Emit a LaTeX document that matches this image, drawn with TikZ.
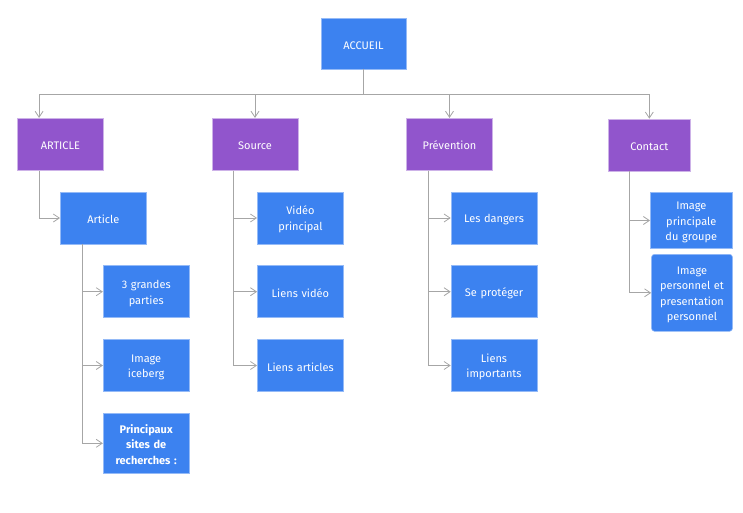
\documentclass[tikz,border=0pt]{standalone}
\usepackage{fontspec}
\setmainfont{Fira Sans}
\usepackage{tikz}
\usetikzlibrary{shapes,arrows.meta}
\definecolor{pageblue}{HTML}{3C82F0}
\definecolor{pagepurple}{HTML}{9155CC}
\definecolor{linkgray}{HTML}{A6A6A6}
\tikzstyle{page}=[draw=pageblue!55!white, line width=0.6pt, fill=pageblue, text=white,
    text width=82pt, inner sep=2pt, text centered, minimum height=52pt,
    font=\fontsize{11}{15.5}\selectfont, execute at begin node={\rule{0pt}{11.5pt}}]
\tikzstyle{section}=[page, draw=pagepurple!45!white, fill=pagepurple]
\tikzstyle{link}=[draw=linkgray, line width=0.8pt,
    -{Straight Barb[length=6pt,width=8pt]}]

\begin{document}
\begin{tikzpicture}[x=1pt,y=-1pt]
\useasboundingbox (0,0) rectangle (743,512);
% Accueil
\path (363.5,43.5) node [page, text width=81pt, minimum height=51pt] (accueil) {ACCUEIL};
% sections
\path (60.4,144.2) node [section] (article) {ARTICLE};
\path (255,144.2) node [section] (source) {Source};
\path (449.5,144.2) node [section] (prevention) {Pr\'evention};
\path (649.3,145) node [section, text width=78pt] (contact) {Contact};
% article pages
\path (103.3,218) node [page] (articlepage) {Article};
\path (146.2,291.7) node [page] (parties) {3 grandes\\parties};
\path (146.2,365.5) node [page] (iceberg) {Image\\iceberg};
\path (146.2,443.3) node [page, minimum height=60pt] (sites) {\textbf{Principaux}\\\textbf{sites de}\\\textbf{recherches :}};
% source pages
\path (300.4,218) node [page] (video) {Vid\'eo\\principal};
\path (300.4,291.7) node [page] (liensvideo) {Liens vid\'eo};
\path (300.4,365.5) node [page] (liensarticles) {Liens articles};
% prevention pages
\path (494,218) node [page] (dangers) {Les dangers};
\path (494,291.7) node [page] (proteger) {Se prot\'eger};
\path (494,365.5) node [page] (importants) {Liens\\importants};
% contact pages
\path (691.3,220.5) node [page, text width=78pt, minimum height=56pt] (groupe) {Image\\principale\\du groupe};
\path (692,292.8) node [page, text width=77pt, minimum height=77pt, rounded corners=3pt] (perso) {Image\\personnel et\\presentation\\personnel};
% arrows from accueil
\draw [link] (accueil.south) -- ++(0,25) -| ([xshift=22pt]article.north west);
\draw [link] (accueil.south) -- ++(0,25) -| (source.north);
\draw [link] (accueil.south) -- ++(0,25) -| (prevention.north);
\draw [link] (accueil.south) -- ++(0,25) -| (contact.north);
% arrows in the branches
\draw [link] ([xshift=22pt]article.south west) |- (articlepage.west);
\draw [link] ([xshift=22pt]articlepage.south west) |- (parties.west);
\draw [link] ([xshift=22pt]articlepage.south west) |- (iceberg.west);
\draw [link] ([xshift=22pt]articlepage.south west) |- (sites.west);
\draw [link] ([xshift=22pt]source.south west) |- (video.west);
\draw [link] ([xshift=22pt]source.south west) |- (liensvideo.west);
\draw [link] ([xshift=22pt]source.south west) |- (liensarticles.west);
\draw [link] ([xshift=22pt]prevention.south west) |- (dangers.west);
\draw [link] ([xshift=22pt]prevention.south west) |- (proteger.west);
\draw [link] ([xshift=22pt]prevention.south west) |- (importants.west);
\draw [link] ([xshift=21pt]contact.south west) |- (groupe.west);
\draw [link] ([xshift=21pt]contact.south west) |- (perso.west);
\end{tikzpicture}
\end{document}
